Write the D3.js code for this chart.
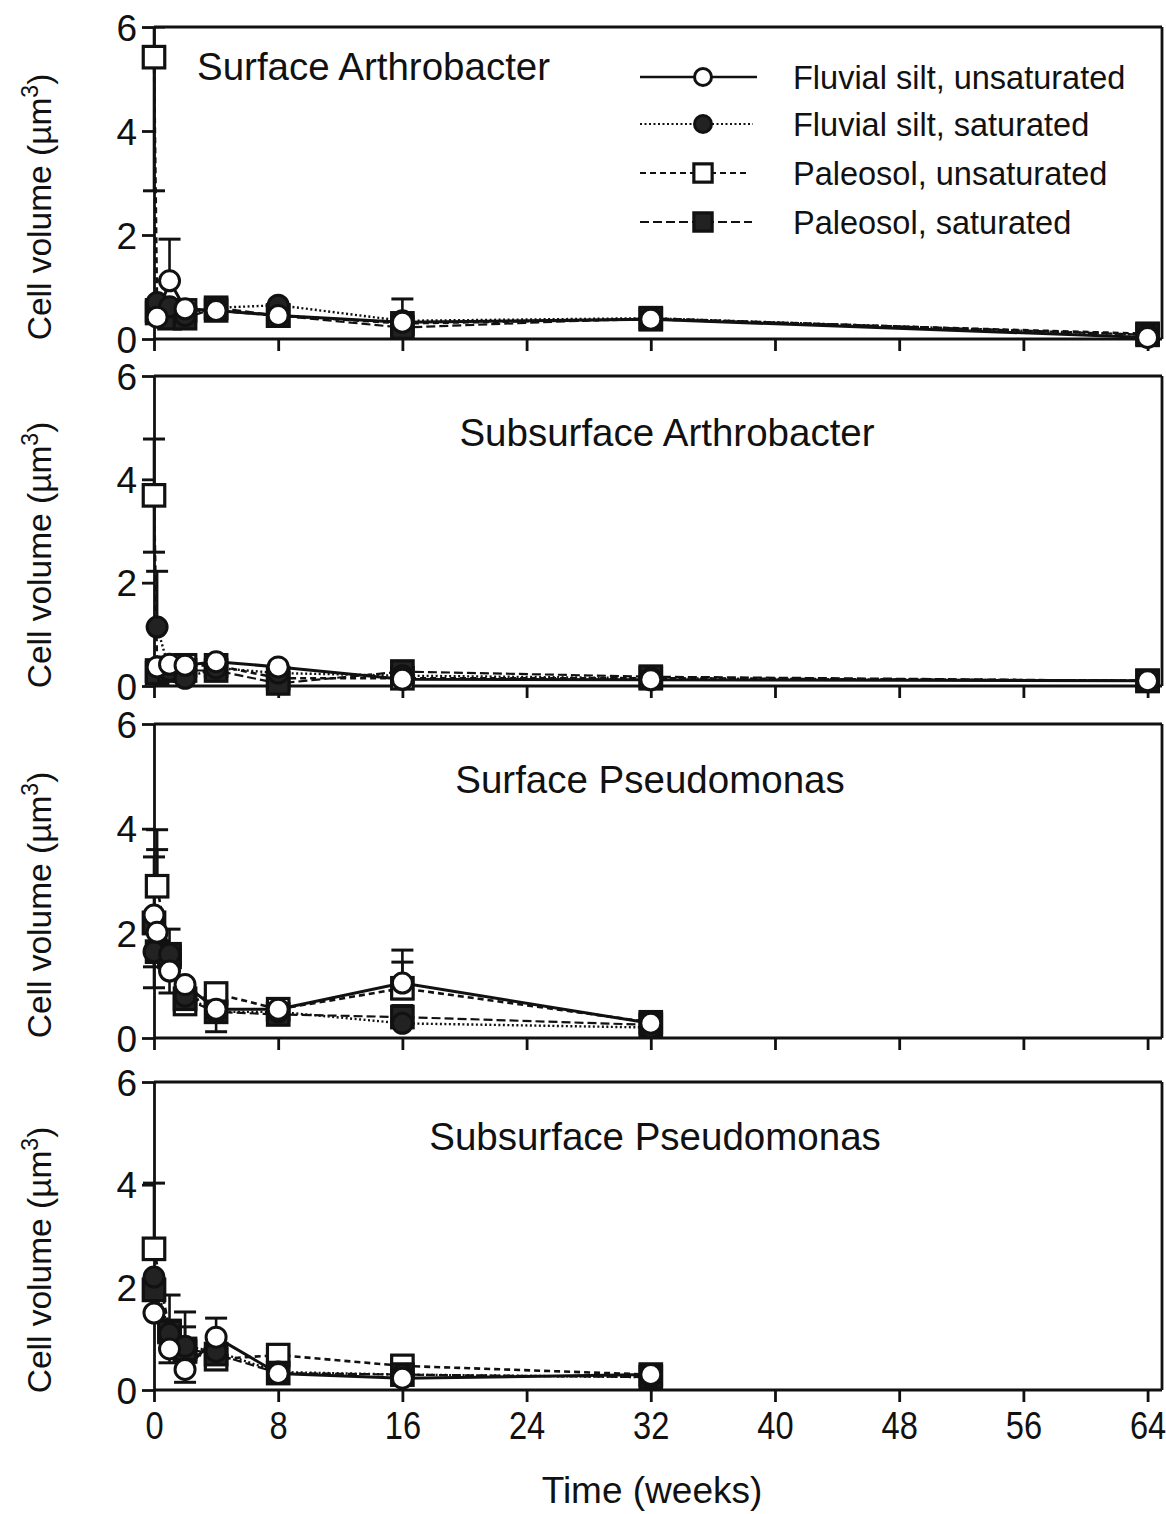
<!DOCTYPE html>
<html>
<head>
<meta charset="utf-8">
<script src="https://cdn.jsdelivr.net/npm/d3@7"></script>
<style>
  html, body { margin: 0; padding: 0; background: #fff; }
  svg { display: block; }
  text { font-family: "Liberation Sans", Arial, Helvetica, sans-serif; fill: #111; }
</style>
</head>
<body>
<svg id="chart" width="1166" height="1514"></svg>
<script>
// ---------------- DATA ----------------
const seriesNames = ["Fluvial silt, unsaturated", "Fluvial silt, saturated", "Paleosol, unsaturated", "Paleosol, saturated"];
const panelTitles = ["Surface Arthrobacter", "Subsurface Arthrobacter", "Surface Pseudomonas", "Subsurface Pseudomonas"];
const xTicks = [0, 8, 16, 24, 32, 40, 48, 56, 64];
const yTicks = [0, 2, 4, 6];

const weeksArthro = [0, 0.2, 1, 2, 4, 8, 16, 32, 64];
const weeksPseudo = [0, 0.2, 1, 2, 4, 8, 16, 32];

// Surface Arthrobacter
const surfArthroFluvUnsat  = [null, 0.42, 1.12, 0.58, 0.55, 0.45, 0.32, 0.38, 0.03];
const surfArthroFluvSat    = [null, 0.70, 0.62, 0.45, 0.60, 0.65, 0.35, 0.40, 0.08];
const surfArthroPaleoUnsat = [5.42, 0.55, 0.50, 0.55, 0.55, 0.45, 0.30, 0.38, 0.10];
const surfArthroPaleoSat   = [null, 0.50, 0.40, 0.40, 0.60, 0.45, 0.22, 0.40, 0.08];
// error bars: [week, value, cap]
const surfArthroErr = [[0, 5.42, 2.85], [0, 5.42, 6.0], [1, 1.12, 1.92], [16, 0.32, 0.77]];

// Subsurface Arthrobacter
const subArthroFluvUnsat  = [null, 0.37, 0.42, 0.40, 0.47, 0.37, 0.13, 0.12, 0.10];
const subArthroFluvSat    = [null, 1.14, 0.30, 0.15, 0.35, 0.25, 0.20, 0.15, 0.10];
const subArthroPaleoUnsat = [3.69, 0.30, 0.35, 0.40, 0.40, 0.15, 0.15, 0.15, 0.10];
const subArthroPaleoSat   = [null, 0.25, 0.30, 0.30, 0.30, 0.05, 0.28, 0.18, 0.10];
const subArthroErr = [[0, 3.69, 4.78], [0, 3.69, 2.59], [0.2, 1.14, 2.22]];

// Surface Pseudomonas
const surfPseudoFluvUnsat  = [2.35, 2.02, 1.28, 1.02, 0.55, 0.55, 1.05, 0.28];
const surfPseudoFluvSat    = [1.65, null, 1.60, 0.80, 0.50, 0.50, 0.28, 0.20];
const surfPseudoPaleoUnsat = [null, 2.90, 1.55, 0.65, 0.85, 0.55, 0.95, 0.30];
const surfPseudoPaleoSat   = [2.20, 1.65, 1.60, 0.75, 0.50, 0.45, 0.40, 0.25];
const surfPseudoErr = [[0.2, 2.90, 3.98], [0.2, 2.90, 3.60], [0, 2.35, 3.46], [1, 1.60, 2.08],
                       [0, 1.65, 1.36], [0, 1.65, 0.96], [1, 1.28, 0.86], [4, 0.50, 0.12],
                       [16, 1.05, 1.68], [16, 1.05, 1.45], [16, 0.95, 0.75], [16, 0.40, 0.62]];

// Subsurface Pseudomonas
const subPseudoFluvUnsat  = [1.50, null, 0.80, 0.40, 1.03, 0.32, 0.23, 0.30];
const subPseudoFluvSat    = [2.20, null, 1.10, 0.85, 0.75, 0.35, 0.30, 0.25];
const subPseudoPaleoUnsat = [2.75, null, 1.15, 0.75, 0.60, 0.68, 0.47, 0.30];
const subPseudoPaleoSat   = [1.95, null, 1.13, 0.80, 0.70, 0.33, 0.30, 0.25];
const subPseudoErr = [[0, 2.75, 4.03], [1, 1.13, 1.85], [1, 0.80, 0.53], [2, 0.85, 1.52],
                      [2, 0.85, 1.23], [2, 0.40, 0.15], [4, 1.03, 1.40]];

// ---------------- BUILD ----------------
const panels = [
  { title: panelTitles[0], weeks: weeksArthro, series: [surfArthroFluvUnsat, surfArthroFluvSat, surfArthroPaleoUnsat, surfArthroPaleoSat], err: surfArthroErr },
  { title: panelTitles[1], weeks: weeksArthro, series: [subArthroFluvUnsat, subArthroFluvSat, subArthroPaleoUnsat, subArthroPaleoSat], err: subArthroErr },
  { title: panelTitles[2], weeks: weeksPseudo, series: [surfPseudoFluvUnsat, surfPseudoFluvSat, surfPseudoPaleoUnsat, surfPseudoPaleoSat], err: surfPseudoErr },
  { title: panelTitles[3], weeks: weeksPseudo, series: [subPseudoFluvUnsat, subPseudoFluvSat, subPseudoPaleoUnsat, subPseudoPaleoSat], err: subPseudoErr }
];

// layout
const frames = [
  { top: 27, bottom: 339, title: { x: 197, y: 80, anchor: "start" } },
  { top: 376, bottom: 686, title: { x: 667, y: 446, anchor: "middle" } },
  { top: 724, bottom: 1038, title: { x: 650, y: 793, anchor: "middle" } },
  { top: 1082, bottom: 1390, title: { x: 655, y: 1150, anchor: "middle" } }
];
const frameRight = 1162;
const styles = [
  { dash: null, width: 3, shape: "circle", filled: false },
  { dash: "2,2.5", width: 2.4, shape: "circle", filled: true },
  { dash: "6,4", width: 2.6, shape: "square", filled: false },
  { dash: "9,4", width: 2.2, shape: "square", filled: true }
];
const ink = "#111";

const svg = d3.select("#chart");
const x = d3.scaleLinear().domain([0, 64.8]).range([154, 1160]);

function drawMarker(g, shape, filled, cx, cy, r) {
  if (shape === "circle") {
    g.append("circle").attr("cx", cx).attr("cy", cy).attr("r", r)
      .attr("fill", filled ? "#222" : "#fff").attr("stroke", ink).attr("stroke-width", 3);
  } else {
    const s = r * 2.15;
    g.append("rect").attr("x", cx - s / 2).attr("y", cy - s / 2).attr("width", s).attr("height", s)
      .attr("fill", filled ? "#222" : "#fff").attr("stroke", ink).attr("stroke-width", 3.2);
  }
}

panels.forEach((p, i) => {
  const f = frames[i];
  const y = d3.scaleLinear().domain([0, 6]).range([f.bottom, f.top]);
  const g = svg.append("g");
  const clipId = "clip" + i;
  svg.append("clipPath").attr("id", clipId).append("rect")
    .attr("x", x(0) - 20).attr("y", f.top).attr("width", frameRight - x(0) + 20).attr("height", f.bottom - f.top + 15);

  // frame top and right
  g.append("line").attr("x1", x(0)).attr("x2", frameRight).attr("y1", f.top).attr("y2", f.top)
    .attr("stroke", ink).attr("stroke-width", 2.8);
  g.append("line").attr("x1", frameRight).attr("x2", frameRight).attr("y1", f.top).attr("y2", f.bottom)
    .attr("stroke", ink).attr("stroke-width", 2.8);

  // axes
  const yAxis = d3.axisLeft(y).tickValues(yTicks).tickSize(12).tickSizeOuter(0).tickPadding(5).tickFormat(d3.format("d"));
  const ga = g.append("g").attr("transform", `translate(${x(0)},0)`).call(yAxis);
  ga.selectAll("path, line").attr("stroke", ink).attr("stroke-width", 2.8);
  ga.selectAll("text").attr("font-size", 37).attr("font-family", "Liberation Sans, Arial, sans-serif").attr("fill", ink).attr("dy", "0.36em");

  const isLast = i === panels.length - 1;
  const xAxis = d3.axisBottom(x).tickValues(xTicks).tickSize(12).tickSizeOuter(0).tickPadding(10)
    .tickFormat(isLast ? d3.format("d") : () => "");
  const gx = g.append("g").attr("transform", `translate(0,${f.bottom})`).call(xAxis);
  gx.select("path.domain").attr("d", `M${x(0)},0H${frameRight}`);
  gx.selectAll("path, line").attr("stroke", ink).attr("stroke-width", 2.8);
  gx.selectAll("text").attr("font-size", 38).attr("font-family", "Liberation Sans, Arial, sans-serif").attr("fill", ink)
    .attr("transform", "scale(0.86,1)");

  // y axis title
  const cy = (f.top + f.bottom) / 2 + 24;
  const yt = svg.append("text").attr("transform", `translate(51,${cy}) rotate(-90)`)
    .attr("text-anchor", "middle").attr("font-size", 33.5);
  yt.append("tspan").text("Cell volume (µm");
  yt.append("tspan").text("3").attr("font-size", 23).attr("dy", -13);
  yt.append("tspan").text(")").attr("dy", 13);

  // panel title
  svg.append("text").attr("x", f.title.x).attr("y", f.title.y).attr("text-anchor", f.title.anchor)
    .attr("font-size", 38.5).text(p.title);

  const plot = g.append("g").attr("clip-path", `url(#${clipId})`);

  // lines
  const line = d3.line().x(d => x(d.t)).y(d => y(d.v));
  p.series.forEach((vals, si) => {
    const pts = p.weeks.map((t, k) => ({ t, v: vals[k] })).filter(d => d.v != null);
    const st = styles[si];
    plot.append("path").attr("d", line(pts)).attr("fill", "none").attr("stroke", ink)
      .attr("stroke-width", st.width).attr("stroke-dasharray", st.dash);
  });

  // error bars
  p.err.forEach(([t, v, cap]) => {
    plot.append("line").attr("x1", x(t)).attr("x2", x(t)).attr("y1", y(v)).attr("y2", y(cap))
      .attr("stroke", ink).attr("stroke-width", 2.6);
    plot.append("line").attr("x1", x(t) - 11).attr("x2", x(t) + 11).attr("y1", y(cap)).attr("y2", y(cap))
      .attr("stroke", ink).attr("stroke-width", 3);
  });

  // markers (paleosol first, fluvial unsaturated on top)
  [2, 3, 1, 0].forEach(si => {
    const vals = p.series[si];
    const st = styles[si];
    p.weeks.forEach((t, k) => {
      if (vals[k] == null) return;
      drawMarker(plot, st.shape, st.filled, x(t), y(vals[k]), 10);
    });
  });

  // legend only in first panel
  if (i === 0) {
    const rows = [77, 124, 173, 222];
    const lineEnds = [757, 753, 748, 752];
    seriesNames.forEach((name, si) => {
      const st = styles[si];
      const ly = rows[si];
      svg.append("line").attr("x1", 640).attr("x2", lineEnds[si]).attr("y1", ly).attr("y2", ly)
        .attr("stroke", ink).attr("stroke-width", st.width * 0.8).attr("stroke-dasharray", st.dash);
      drawMarker(svg.append("g"), st.shape, st.filled, 703, ly, 8.5);
      svg.append("text").attr("x", 793).attr("y", ly + 11.5).attr("font-size", 32.5).text(name);
    });
  }
});

// x axis title
svg.append("text").attr("x", 652).attr("y", 1503).attr("text-anchor", "middle").attr("font-size", 37).text("Time (weeks)");
</script>
</body>
</html>
